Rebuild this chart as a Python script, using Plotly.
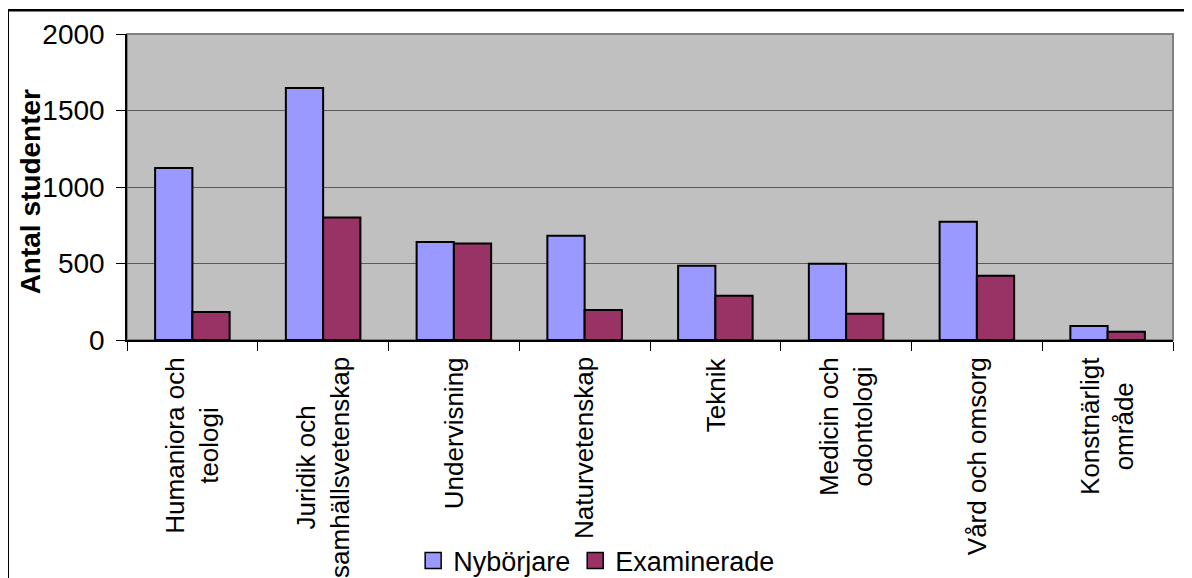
import plotly.graph_objects as go

# omraden (kategorier) och varden avlasta ur diagrammet
omraden = ["Humaniora och<br>teologi", "Juridik och<br>samhällsvetenskap", "Undervisning",
           "Naturvetenskap", "Teknik", "Medicin och<br>odontologi", "Vård och omsorg",
           "Konstnärligt<br>område"]
nyborjare = [1125, 1647, 640, 682, 486, 499, 773, 92]
examinerade = [183, 800, 630, 196, 290, 172, 420, 54]

serier = [("Nybörjare", nyborjare, "#9999FF"), ("Examinerade", examinerade, "#993366")]

font_family = "Liberation Sans, Arial, sans-serif"

fig = go.Figure()
for namn, varden, farg in serier:
    fig.add_trace(go.Bar(x=omraden, y=varden, name=namn, showlegend=False,
                         marker=dict(color=farg, line=dict(color="black", width=2))))
# legenden med storre rutor (tomma hjalpspar)
for namn, varden, farg in serier:
    fig.add_trace(go.Scatter(x=[None], y=[None], name=namn, mode="markers",
                             marker=dict(symbol="square", size=16, color=farg,
                                         line=dict(color="black", width=1.5))))

# kategorietiketter som roterade annoteringar (centrerade rader, som i Excel)
for o in omraden:
    fig.add_annotation(x=o, xref="x", y=-0.05, yref="paper", text=o,
                       textangle=-90, showarrow=False, align="center",
                       xanchor="center", yanchor="top",
                       font=dict(family=font_family, size=26, color="black"))

# y-axelns rubrik
fig.add_annotation(x=-0.092, xref="paper", y=0.485, yref="paper",
                   text="<b>Antal studenter</b>", textangle=-90, showarrow=False,
                   xanchor="center", yanchor="middle",
                   font=dict(family=font_family, size=28, color="black"))

# graa ram runt plotytan
fig.add_shape(type="rect", xref="paper", yref="paper", x0=0, x1=1, y0=0, y1=1,
              line=dict(color="#808080", width=2), layer="below")
# svart ram runt hela diagrammet
fig.add_shape(type="rect", xref="paper", yref="paper", x0=-0.114, x1=1.2, y0=-1.2, y1=1.078,
              line=dict(color="black", width=2.5))

# sidan har 8 px marginal, darfor lite mindre figur
fig.update_layout(
    width=1184, height=570,
    margin=dict(l=119, r=19, t=26, b=238, autoexpand=False),
    paper_bgcolor="white", plot_bgcolor="#C0C0C0",
    barmode="group", bargap=0.43, bargroupgap=0,
    font=dict(family=font_family, color="black"),
    showlegend=True,
    legend=dict(orientation="h", x=0.449, xanchor="center", y=-0.722, yanchor="middle",
                font=dict(size=27), bgcolor="white", itemwidth=30,
                tracegroupgap=0),
    xaxis=dict(showticklabels=False, ticks="outside", tickson="boundaries", ticklen=9,
               tickcolor="black", showline=True, linecolor="black", linewidth=1.5,
               showgrid=False),
    yaxis=dict(range=[0, 2000], dtick=500, ticks="outside", ticklen=9, tickcolor="black",
               showline=True, linecolor="black", linewidth=1.5,
               showgrid=True, gridcolor="#5a5a5a", gridwidth=1.2,
               tickfont=dict(size=28), zeroline=False, ticklabelstandoff=6),
)

fig.write_html("out.html")
